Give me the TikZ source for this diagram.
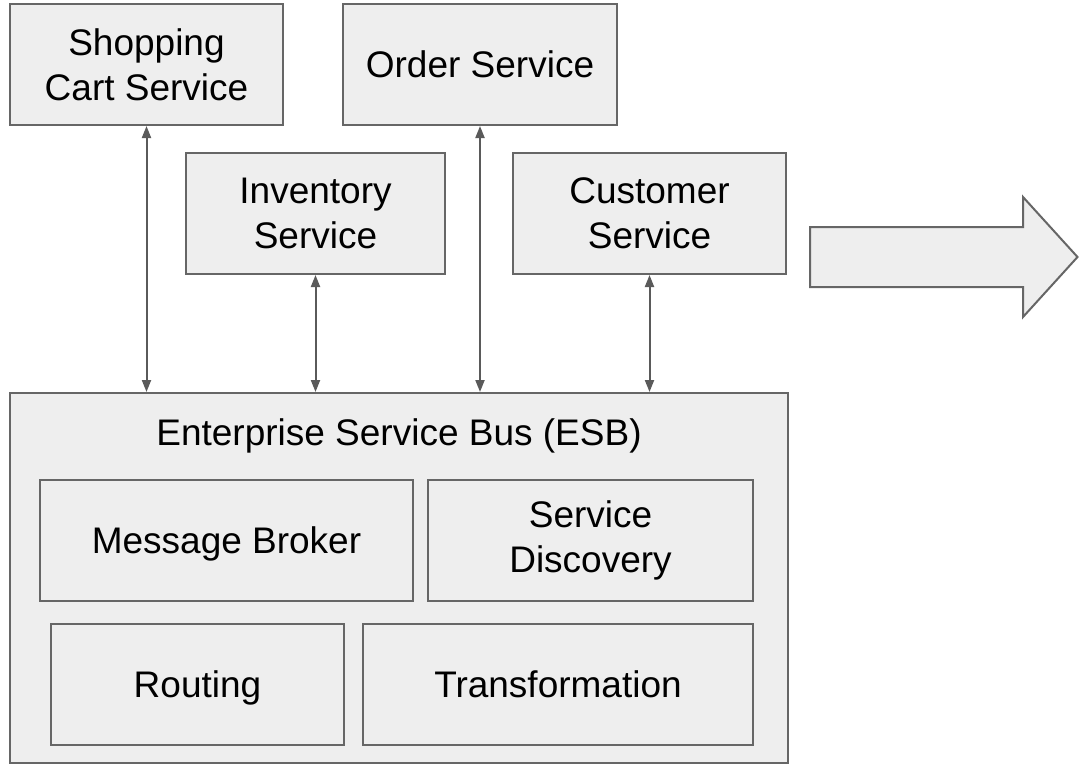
\documentclass[tikz,border=0pt]{standalone}
\usepackage{fontspec}
\setmainfont{Liberation Sans}
\usepackage{tikz}
\usetikzlibrary{arrows.meta,positioning}
\usepackage{xcolor}
\definecolor{esbfill}{RGB}{238,238,238}
\definecolor{esbline}{RGB}{102,102,102}
\definecolor{esblink}{RGB}{90,90,90}
\tikzstyle{link} = [line width=1pt,<->,>={Triangle[length=6pt,width=4.5pt]},color=esblink]
\tikzstyle{service} = [rectangle, minimum width=136.5pt, minimum height=60.5pt, text centered, align=center, draw=esbline, fill=esbfill, line width=1pt, inner sep=0pt, font=\fontsize{18.5}{22.5}\selectfont]
\tikzstyle{oneline} = [text height=13.2pt, text depth=0pt]

\begin{document}
\begin{tikzpicture}[x=0.5pt,y=-0.5pt]
\useasboundingbox (0,0) rectangle (1079,765);
% Services on top
\node (shop) [service] at (146.5,64.5) {Shopping\\Cart Service};
\node (order) [service, oneline, minimum width=137pt] at (480,64.5) {Order Service};
\node (inv) [service, minimum width=129.5pt] at (315.5,213.5) {Inventory\\Service};
\node (cust) [service] at (649.5,213.5) {Customer\\Service};

% Bus and its parts
\node (esb) [service, minimum width=389pt, minimum height=185pt] at (399,578) {};
\node (esbtitle) [oneline, font=\fontsize{18.5}{22.5}\selectfont] at (399,432.5) {Enterprise Service Bus (ESB)};
\node (broker) [service, oneline, minimum width=186.5pt] at (226.5,540.5) {Message Broker};
\node (disc) [service, minimum width=162.5pt] at (590.5,540.5) {Service\\Discovery};
\node (routing) [service, oneline, minimum width=146.5pt] at (197.5,684.5) {Routing};
\node (trans) [service, oneline, minimum width=195pt] at (558,684.5) {Transformation};

% Links to the bus
\draw[link] (shop.south) -- (shop.south |- esb.north);
\draw[link] (inv.south) -- (inv.south |- esb.north);
\draw[link] (order.south) -- (order.south |- esb.north);
\draw[link] (cust.south) -- (cust.south |- esb.north);

% Big arrow
\draw[draw=esbline, fill=esbfill, line width=1pt] (810,227) -- (1023,227) -- (1023,197) -- (1077.5,257) -- (1023,317) -- (1023,287) -- (810,287) -- cycle;
\end{tikzpicture}
\end{document}
